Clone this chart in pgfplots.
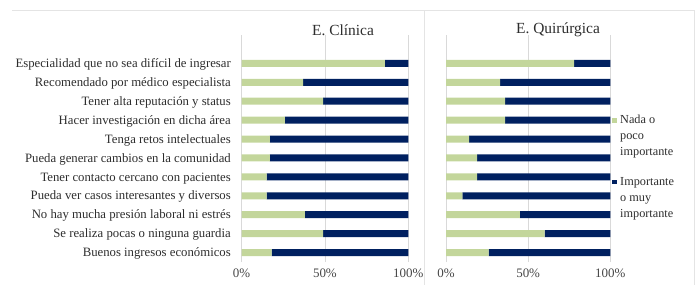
\documentclass[border=0pt]{standalone}
\usepackage{fontspec}
\setmainfont{Liberation Serif}
\usepackage{pgfplots}
\usepackage{pgfplotstable}
\pgfplotsset{compat=1.18}
\definecolor{lgreen}{RGB}{195,214,155}
\definecolor{navy}{RGB}{0,32,96}
\definecolor{txt}{RGB}{45,45,45}
\definecolor{ticktxt}{RGB}{70,70,70}
\definecolor{framec}{RGB}{228,228,228}
\definecolor{gridc}{RGB}{217,217,217}

% y = 0 bottom (Buenos ingresos) ... 10 top (Especialidad)
\pgfplotstableread{
y g n
0 18 82
1 49 51
2 38 62
3 15 85
4 15 85
5 17 83
6 17 83
7 26 74
8 49 51
9 37 63
10 86 14
}\clinica
\pgfplotstableread{
y g n
0 26 74
1 60 40
2 45 55
3 10 90
4 19 81
5 19 81
6 14 86
7 36 64
8 36 64
9 33 67
10 78 22
}\quirurgica

\pgfplotsset{
  panel/.style={
    scale only axis,
    xbar stacked,
    bar width=7bp,
    height=227bp,
    xmin=0, xmax=100,
    ymin=-0.5, ymax=11.5,
    axis line style={draw=none},
    xtick={0,50,100},
    xticklabels={0\%,50\%,100\%},
    ytick={0,...,10},
    major tick length=0pt,
    xmajorgrids,
    major x grid style={gridc, line width=0.8bp},
    xticklabel style={font=\fontsize{13}{15}\selectfont, text=ticktxt, inner sep=0pt, anchor=north, yshift=-7bp},
    yticklabel style={font=\fontsize{12.8}{15}\selectfont, text=txt, inner sep=0pt, anchor=base east, xshift=-10.5bp, yshift=-4.2bp},
  }
}

\begin{document}
\begin{tikzpicture}[x=1bp,y=1bp]
\path[use as bounding box] (0,0) rectangle (699,285);
\draw[framec, line width=0.9bp] (12,275) -- (694,275) (424,275) -- (424,0) (694,275) -- (694,0);

\begin{axis}[panel, width=166.8bp, at={(241.5bp,23bp)}, anchor=south west,
  yticklabels={Buenos ingresos económicos, Se realiza pocas o ninguna guardia, No hay mucha presión laboral ni estrés, Pueda ver casos interesantes y diversos, Tener contacto cercano con pacientes, Pueda generar cambios en la comunidad, Tenga retos intelectuales, Hacer investigación en dicha área, Tener alta reputación y status, Recomendado por médico especialista, Especialidad que no sea difícil de ingresar}]
\addplot[fill=lgreen, draw=none] table[x=g, y=y] {\clinica};
\addplot[fill=navy, draw=none] table[x=n, y=y] {\clinica};
\end{axis}

\begin{axis}[panel, width=164.3bp, at={(446bp,23bp)}, anchor=south west, yticklabels={}]
\addplot[fill=lgreen, draw=none] table[x=g, y=y] {\quirurgica};
\addplot[fill=navy, draw=none] table[x=n, y=y] {\quirurgica};
\end{axis}

\node[font=\fontsize{15.5}{18}\selectfont, text=txt] at (343,255) {E. Clínica};
\node[font=\fontsize{15.5}{18}\selectfont, text=txt] at (558,255) {E. Quirúrgica};

\fill[lgreen] (612,162.5) rectangle (616.5,167);
\node[anchor=north west, align=left, inner sep=0pt, font=\fontsize{12.3}{16}\selectfont, text=txt] at (620,170) {Nada o\\poco\\importante};
\fill[navy] (612,100.8) rectangle (616.5,105.3);
\node[anchor=north west, align=left, inner sep=0pt, font=\fontsize{12.3}{16}\selectfont, text=txt] at (620,108) {Importante\\o muy\\importante};
\end{tikzpicture}
\end{document}
